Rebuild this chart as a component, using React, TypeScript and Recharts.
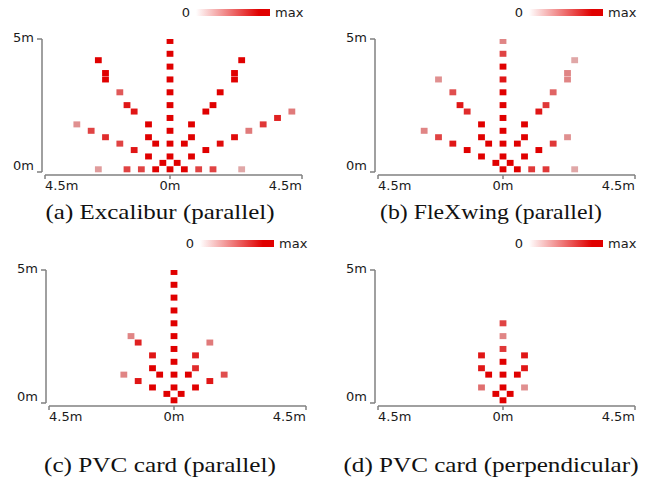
import React from 'react';
import { ScatterChart, Scatter, XAxis, YAxis, ReferenceLine } from 'recharts';

type P = { x: number; y: number; v: number };

// tick positions (m) as they sit in the picture, and their labels
const xTickValues = [-4.36, 0, 4.604];
const xTickLabels = ['4.5m', '0m', '4.5m'];
const yTickValues = [-0.105, 5.076];
const yTickLabels = ['0m', '5m'];
const xDomain = [-4.465, 4.604];
const yDomain = [-0.222, 5.076];
const legendLabels = ['0', 'max'];
const captions = [
  '(a) Excalibur (parallel)',
  '(b) FleXwing (parallel)',
  '(c) PVC card (parallel)',
  '(d) PVC card (perpendicular)',
];

const excalibur: P[] = [
  { x: 0, y: 0, v: 1 }, { x: 0, y: 0.5, v: 1 }, { x: 0, y: 1, v: 1 }, { x: 0, y: 1.5, v: 1 },
  { x: 0, y: 2, v: 1 }, { x: 0, y: 2.5, v: 1 }, { x: 0, y: 3, v: 1 }, { x: 0, y: 3.5, v: 1 },
  { x: 0, y: 4, v: 1 }, { x: 0, y: 4.5, v: 1 }, { x: 0, y: 5, v: 1 },
  { x: -0.25, y: 0.25, v: 1 }, { x: 0.25, y: 0.25, v: 1 },
  { x: -2.5, y: 4.25, v: 1 }, { x: -2.25, y: 3.75, v: 1 }, { x: -2.25, y: 3.5, v: 1 },
  { x: -1.75, y: 3, v: 0.6 }, { x: -1.5, y: 2.5, v: 0.9 }, { x: -1.25, y: 2.25, v: 0.9 },
  { x: -0.75, y: 1.75, v: 1 }, { x: -0.75, y: 1.25, v: 1 }, { x: -0.5, y: 1, v: 1 },
  { x: -0.75, y: 0.5, v: 1 }, { x: -0.5, y: 0, v: 1 }, { x: -1, y: 0, v: 0.7 },
  { x: -1.5, y: 0, v: 0.7 }, { x: -2.5, y: 0, v: 0.3 }, { x: -1.25, y: 0.75, v: 0.9 },
  { x: -1.75, y: 1, v: 0.7 }, { x: -2.25, y: 1.25, v: 0.8 }, { x: -2.75, y: 1.5, v: 0.7 },
  { x: -3.25, y: 1.75, v: 0.35 },
  { x: 2.5, y: 4.25, v: 1 }, { x: 2.25, y: 3.75, v: 1 }, { x: 2.25, y: 3.5, v: 1 },
  { x: 1.75, y: 3, v: 1 }, { x: 1.5, y: 2.5, v: 1 }, { x: 1.25, y: 2.25, v: 1 },
  { x: 0.75, y: 1.75, v: 1 }, { x: 0.75, y: 1.25, v: 1 }, { x: 0.5, y: 1, v: 1 },
  { x: 0.75, y: 0.5, v: 1 }, { x: 0.5, y: 0, v: 1 }, { x: 1, y: 0, v: 0.7 },
  { x: 1.5, y: 0, v: 0.7 }, { x: 2.5, y: 0, v: 0.25 }, { x: 1.25, y: 0.75, v: 1 },
  { x: 1.75, y: 1, v: 0.95 }, { x: 2.25, y: 1.25, v: 0.95 }, { x: 2.75, y: 1.5, v: 0.45 },
  { x: 3.25, y: 1.75, v: 0.75 }, { x: 3.75, y: 2, v: 0.85 }, { x: 4.25, y: 2.25, v: 0.45 },
];

const flexwing: P[] = [
  { x: 0, y: 5, v: 0.4 }, { x: 0, y: 4.5, v: 0.7 }, { x: 0, y: 4, v: 1 }, { x: 0, y: 3.5, v: 0.9 },
  { x: 0, y: 3, v: 1 }, { x: 0, y: 2.5, v: 1 }, { x: 0, y: 2, v: 1 }, { x: 0, y: 1.5, v: 1 },
  { x: 0, y: 1, v: 1 }, { x: 0, y: 0.5, v: 1 }, { x: 0, y: 0, v: 1 },
  { x: -0.25, y: 0.25, v: 1 }, { x: 0.25, y: 0.25, v: 1 },
  { x: -2.25, y: 3.5, v: 0.35 }, { x: -1.75, y: 3, v: 0.65 }, { x: -1.5, y: 2.5, v: 0.9 },
  { x: -1.25, y: 2.25, v: 0.8 }, { x: -0.75, y: 1.75, v: 1 }, { x: -0.75, y: 1.25, v: 1 },
  { x: -0.5, y: 1, v: 1 }, { x: -0.75, y: 0.5, v: 1 }, { x: -1.25, y: 0.75, v: 1 },
  { x: -1.75, y: 1, v: 0.9 }, { x: -2.25, y: 1.25, v: 0.7 }, { x: -2.75, y: 1.5, v: 0.4 },
  { x: 2.5, y: 4.25, v: 0.25 }, { x: 2.25, y: 3.75, v: 0.4 }, { x: 2.25, y: 3.5, v: 0.4 },
  { x: 1.75, y: 3, v: 0.55 }, { x: 1.5, y: 2.5, v: 0.75 }, { x: 1.25, y: 2.25, v: 0.9 },
  { x: 0.75, y: 1.75, v: 1 }, { x: 0.75, y: 1.25, v: 1 }, { x: 0.5, y: 1, v: 1 },
  { x: 0.75, y: 0.5, v: 1 }, { x: 0.5, y: 0, v: 1 }, { x: 1, y: 0, v: 0.75 },
  { x: 1.5, y: 0, v: 0.75 }, { x: 2.5, y: 0, v: 0.25 }, { x: 1.25, y: 0.75, v: 1 },
  { x: 1.75, y: 1, v: 0.75 }, { x: 2.25, y: 1.25, v: 0.35 },
];

const pvcParallel: P[] = [
  { x: 0, y: 0, v: 1 }, { x: 0, y: 0.5, v: 1 }, { x: 0, y: 1, v: 1 }, { x: 0, y: 1.5, v: 1 },
  { x: 0, y: 2, v: 1 }, { x: 0, y: 2.5, v: 1 }, { x: 0, y: 3, v: 1 }, { x: 0, y: 3.5, v: 1 },
  { x: 0, y: 4, v: 1 }, { x: 0, y: 4.5, v: 1 }, { x: 0, y: 5, v: 1 },
  { x: -0.25, y: 0.25, v: 1 }, { x: 0.25, y: 0.25, v: 1 },
  { x: -1.5, y: 2.5, v: 0.4 }, { x: -1.25, y: 2.25, v: 0.85 }, { x: -0.75, y: 1.75, v: 0.9 },
  { x: -0.75, y: 1.25, v: 1 }, { x: -0.5, y: 1, v: 1 }, { x: -0.75, y: 0.5, v: 1 },
  { x: -1.25, y: 0.75, v: 0.9 }, { x: -1.75, y: 1, v: 0.4 },
  { x: 1.25, y: 2.25, v: 0.45 }, { x: 0.75, y: 1.75, v: 0.85 }, { x: 0.75, y: 1.25, v: 0.8 },
  { x: 0.5, y: 1, v: 1 }, { x: 0.75, y: 0.5, v: 1 }, { x: 1.25, y: 0.75, v: 0.9 },
  { x: 1.75, y: 1, v: 0.65 },
];

const pvcPerpendicular: P[] = [
  { x: 0, y: 3, v: 0.7 }, { x: 0, y: 2.5, v: 0.4 }, { x: 0, y: 2, v: 0.75 }, { x: 0, y: 1.5, v: 1 },
  { x: 0, y: 1, v: 1 }, { x: 0, y: 0.5, v: 1 }, { x: 0, y: 0, v: 1 },
  { x: -0.25, y: 0.25, v: 1 }, { x: 0.25, y: 0.25, v: 1 },
  { x: -0.75, y: 1.75, v: 0.9 }, { x: -0.75, y: 1.25, v: 0.9 }, { x: -0.5, y: 1, v: 1 },
  { x: -0.75, y: 0.5, v: 0.5 },
  { x: 0.75, y: 1.75, v: 0.9 }, { x: 0.75, y: 1.25, v: 0.9 }, { x: 0.5, y: 1, v: 1 },
  { x: 0.75, y: 0.5, v: 0.35 },
];

const panels = [
  { data: excalibur, left: 0, top: 0 },
  { data: flexwing, left: 333, top: 0 },
  { data: pvcParallel, left: 4, top: 231 },
  { data: pvcPerpendicular, left: 333, top: 231 },
];
const captionPos = [
  { x: 160, y: 219, w: 229 },
  { x: 491, y: 219, w: 222 },
  { x: 160, y: 472, w: 232 },
  { x: 491, y: 472, w: 295 },
];

const RED = [224, 0, 0];
const LEGEND_LOW = [255, 255, 255];
const MARK_LOW = [224, 222, 222];
const mix = (lo: number[], v: number) => {
  const c = lo.map((l, i) => Math.round(l + (RED[i] - l) * v));
  return `rgb(${c[0]},${c[1]},${c[2]})`;
};
const heat = (v: number) => mix(MARK_LOW, v);

const Square = (props: any) => {
  const { cx, cy, payload } = props;
  if (cx == null || cy == null) return null;
  return <rect x={cx - 3.4} y={cy - 3} width={6.8} height={6} fill={heat(payload.v)} />;
};

const AXIS = '#808080';
const FONT = '"DejaVu Sans", sans-serif';

const XTick = (props: any) => {
  const { x, y, index } = props;
  const anchors = ['start', 'middle', 'end'];
  return (
    <text x={x} y={y} dy="0.71em" textAnchor={anchors[index]} fontFamily={FONT} fontSize={13} fill="#1a1a1a">
      {xTickLabels[index]}
    </text>
  );
};

const YTick = (props: any) => {
  const { x, y, index } = props;
  const shifts = [-1.5, 3];
  return (
    <text x={x} y={y} dy={shifts[index]} textAnchor="end" fontFamily={FONT} fontSize={13} fill="#1a1a1a">
      {yTickLabels[index]}
    </text>
  );
};

const Panel = ({ data }: { data: P[] }) => (
  <ScatterChart width={320} height={200} margin={{ top: 39, right: 18, bottom: 5, left: 12 }}>
    <XAxis
      type="number"
      dataKey="x"
      domain={xDomain}
      ticks={xTickValues}
      interval={0}
      axisLine={false}
      tickLine={{ stroke: AXIS, strokeWidth: 1.5 }}
      tickSize={4}
      tickMargin={2}
      height={20}
      tick={<XTick />}
      allowDataOverflow
    />
    <YAxis
      type="number"
      dataKey="y"
      domain={yDomain}
      ticks={yTickValues}
      interval={0}
      axisLine={false}
      tickLine={{ stroke: AXIS, strokeWidth: 1.5 }}
      tickSize={5}
      tickMargin={3}
      width={30}
      tick={<YTick />}
      allowDataOverflow
    />
    <ReferenceLine
      segment={[{ x: xTickValues[0], y: yDomain[0] }, { x: xTickValues[2], y: yDomain[0] }]}
      stroke={AXIS}
      strokeWidth={1.5}
      ifOverflow="visible"
    />
    <ReferenceLine
      segment={[{ x: xDomain[0], y: yTickValues[0] }, { x: xDomain[0], y: yTickValues[1] }]}
      stroke={AXIS}
      strokeWidth={1.5}
      ifOverflow="visible"
    />
    <Scatter data={data} shape={Square} isAnimationActive={false} />
  </ScatterChart>
);

export default function App() {
  return (
    <div style={{ position: 'absolute', left: 0, top: 0, width: 652, height: 483, overflow: 'hidden', background: '#fff' }}>
      {panels.map((p, i) => (
        <div key={i} style={{ position: 'absolute', left: p.left, top: p.top, width: 320, height: 200 }}>
          <Panel data={p.data} />
        </div>
      ))}
      <svg width={652} height={483} style={{ position: 'absolute', left: 0, top: 0, pointerEvents: 'none' }}>
        <defs>
          <linearGradient id="heatGrad" x1="0" x2="1" y1="0" y2="0">
            <stop offset="0%" stopColor={mix(LEGEND_LOW, 0)} />
            <stop offset="85%" stopColor={mix(LEGEND_LOW, 1)} />
            <stop offset="100%" stopColor={mix(LEGEND_LOW, 1)} />
          </linearGradient>
        </defs>
        {panels.map((p, i) => (
          <g key={i} transform={`translate(${p.left},${p.top})`}>
            <text x={190} y={17} textAnchor="end" fontFamily={FONT} fontSize={13} fill="#1a1a1a">
              {legendLabels[0]}
            </text>
            <rect x={196} y={9} width={74} height={7} fill="url(#heatGrad)" />
            <text x={275} y={17} fontFamily={FONT} fontSize={13} fill="#1a1a1a">
              {legendLabels[1]}
            </text>
          </g>
        ))}
        {captions.map((c, i) => (
          <text
            key={i}
            x={captionPos[i].x}
            y={captionPos[i].y}
            textAnchor="middle"
            fontFamily='"Liberation Serif", serif'
            fontSize={21}
            textLength={captionPos[i].w}
            lengthAdjust="spacingAndGlyphs"
            fill="#111"
          >
            {c}
          </text>
        ))}
      </svg>
    </div>
  );
}
